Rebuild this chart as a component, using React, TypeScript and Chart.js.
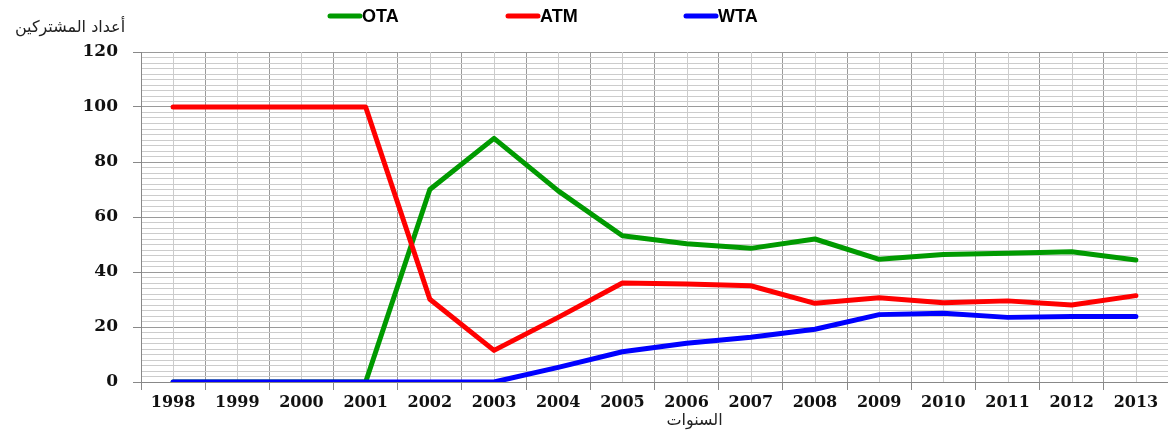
import React, { useEffect, useRef } from "react";
import { Chart, registerables } from "chart.js";

Chart.register(...registerables);

const years = ["1998", "1999", "2000", "2001", "2002", "2003", "2004", "2005", "2006", "2007", "2008", "2009", "2010", "2011", "2012", "2013"];
const otaValues = [0, 0, 0, 0, 70, 88.6, 69.5, 53.2, 50.3, 48.6, 52, 44.6, 46.4, 46.8, 47.4, 44.4];
const atmValues = [100, 100, 100, 100, 30.1, 11.5, 23.5, 36, 35.6, 35, 28.6, 30.6, 28.8, 29.5, 28, 31.4];
const wtaValues = [0, 0, 0, 0, 0, 0, 5.3, 11, 14.1, 16.3, 19.2, 24.5, 25, 23.5, 23.8, 23.8];
const seriesNames = ["OTA", "ATM", "WTA"];
const seriesColors = ["#009a00", "#ff0000", "#0000ff"];
const yAxisTitle = "أعداد المشتركين";
const xAxisTitle = "السنوات";

const MAJOR = "#9a9a9a";
const MINOR = "#cccccc";

const decorPlugin = {
  id: "decor",
  beforeDatasetsDraw(chart: any) {
    const { ctx, chartArea, scales } = chart;
    const x = scales.x;
    ctx.save();
    ctx.strokeStyle = MINOR;
    ctx.lineWidth = 1;
    for (let i = 0; i < years.length; i++) {
      const px = Math.round(x.getPixelForValue(i)) + 0.5;
      ctx.beginPath();
      ctx.moveTo(px, chartArea.top);
      ctx.lineTo(px, chartArea.bottom);
      ctx.stroke();
    }
    ctx.restore();
  },
  afterDraw(chart: any) {
    const { ctx, chartArea } = chart;
    ctx.save();
    const datasets = chart.data.datasets;
    for (let i = 0; i < datasets.length; i++) {
      const x0 = 327 + i * 178;
      ctx.strokeStyle = datasets[i].borderColor;
      ctx.lineWidth = 5;
      ctx.lineCap = "round";
      ctx.beginPath();
      ctx.moveTo(x0 + 3, 16);
      ctx.lineTo(x0 + 33, 16);
      ctx.stroke();
      ctx.fillStyle = "#000";
      ctx.font = "bold 18px 'Liberation Sans', Arial, sans-serif";
      ctx.textAlign = "left";
      ctx.textBaseline = "middle";
      ctx.fillText(datasets[i].label, x0 + 35, 17);
    }
    ctx.fillStyle = "#222";
    ctx.font = "16px 'DejaVu Sans', sans-serif";
    ctx.textAlign = "center";
    ctx.textBaseline = "middle";
    ctx.fillText(yAxisTitle, 70, 28);
    ctx.fillText(xAxisTitle, (chartArea.left + chartArea.right) / 2 + 40, 421);
    ctx.restore();
  },
};

export default function App() {
  const ref = useRef<HTMLCanvasElement | null>(null);
  useEffect(() => {
    document.body.style.margin = "0";
    const canvas = ref.current;
    if (!canvas) return;
    const values = [otaValues, atmValues, wtaValues];
    const chart = new Chart(canvas, {
      type: "line",
      data: {
        labels: years,
        datasets: values.map((v, i) => ({
          label: seriesNames[i],
          data: v,
          borderColor: seriesColors[i],
          backgroundColor: seriesColors[i],
          borderWidth: 5,
          pointRadius: 0,
          tension: 0,
          borderCapStyle: "round" as const,
          borderJoinStyle: "round" as const,
          order: 3 - i,
        })),
      },
      options: {
        animation: false,
        responsive: false,
        maintainAspectRatio: false,
        layout: { padding: { top: 52, right: 0, left: 0, bottom: 0 } },
        plugins: {
          legend: { display: false },
          tooltip: { enabled: false },
        },
        scales: {
          x: {
            type: "category",
            offset: true,
            grid: {
              offset: true,
              color: MAJOR,
              tickColor: "#888",
              tickLength: 8,
              lineWidth: 1,
            },
            border: { color: "#888", width: 1 },
            ticks: {
              color: "#111",
              font: { family: "'DejaVu Serif', serif", weight: "bold", size: 16 },
              padding: 3,
              autoSkip: false,
              maxRotation: 0,
            },
            afterFit(scale: any) {
              scale.height = 50;
            },
          },
          y: {
            min: 0,
            max: 120,
            grid: {
              color: (c: any) => (c.tick && c.tick.value % 20 === 0 ? MAJOR : MINOR),
              tickColor: (c: any) => (c.tick && c.tick.value % 20 === 0 ? "#888" : "rgba(0,0,0,0)"),
              tickLength: 8,
              lineWidth: 1,
            },
            border: { color: "#888", width: 1 },
            ticks: {
              stepSize: 2,
              autoSkip: false,
              color: "#111",
              padding: 15,
              font: { family: "'DejaVu Serif', serif", weight: "bold", size: 17 },
              callback: (v: any) => (Number(v) % 20 === 0 ? String(v) : ""),
            },
            afterFit(scale: any) {
              scale.width = 141;
            },
          },
        },
      },
      plugins: [decorPlugin],
    });
    return () => chart.destroy();
  }, []);
  return (
    <div style={{ width: 1168, height: 432, position: "relative", background: "#fff" }}>
      <canvas ref={ref} width={1168} height={432} style={{ display: "block" }} />
    </div>
  );
}
